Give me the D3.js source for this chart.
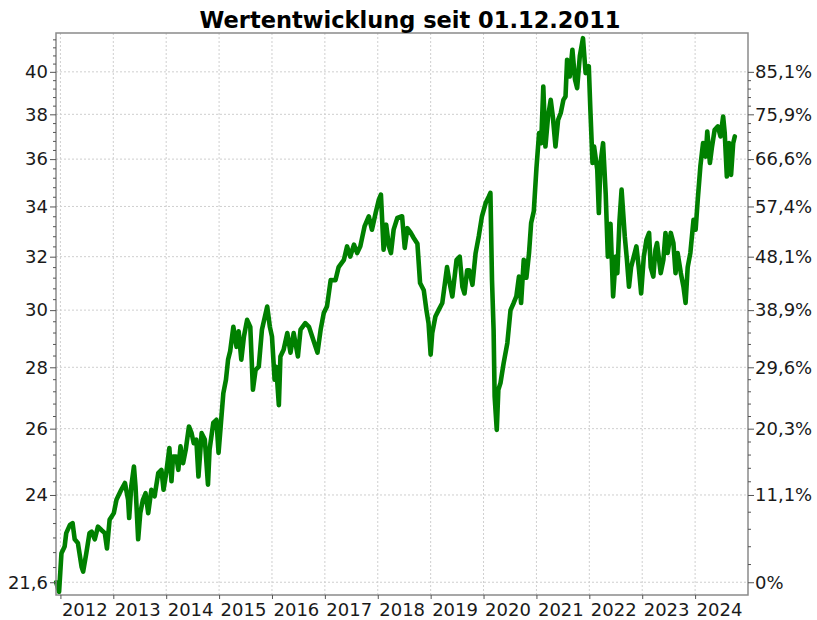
<!DOCTYPE html>
<html>
<head>
<meta charset="utf-8">
<script src="https://cdn.jsdelivr.net/npm/d3@7"></script>
<style>
  body { margin: 0; background: #fff; }
  text { font-family: "DejaVu Sans", Verdana, sans-serif; }
</style>
</head>
<body>
<svg id="chart" width="817" height="620"></svg>
<script>
// Wertentwicklung seit 01.12.2011 - dates as decimal years, price levels
const dates = [
  2011.92, 2011.975, 2012.02, 2012.08, 2012.11, 2012.18, 2012.23, 2012.27, 2012.33, 2012.40,
  2012.43, 2012.49, 2012.55, 2012.59, 2012.65, 2012.71, 2012.78, 2012.84, 2012.88, 2012.93,
  2013.01, 2013.06, 2013.15, 2013.22, 2013.28, 2013.30, 2013.34, 2013.39, 2013.42, 2013.47,
  2013.51, 2013.56, 2013.61, 2013.66, 2013.72, 2013.78, 2013.85, 2013.91, 2013.95, 2014.00,
  2014.06, 2014.10, 2014.13, 2014.19, 2014.23, 2014.27, 2014.32, 2014.37, 2014.43, 2014.48,
  2014.52, 2014.57, 2014.61, 2014.67, 2014.73, 2014.79, 2014.82, 2014.89, 2014.95, 2014.99,
  2015.03, 2015.08, 2015.13, 2015.17, 2015.21, 2015.27, 2015.33, 2015.37, 2015.42, 2015.47,
  2015.53, 2015.59, 2015.64, 2015.69, 2015.75, 2015.81, 2015.91, 2015.96, 2016.00, 2016.05,
  2016.08, 2016.13, 2016.16, 2016.22, 2016.29, 2016.35, 2016.41, 2016.49, 2016.54, 2016.63,
  2016.70, 2016.76, 2016.86, 2016.92, 2016.98, 2017.04, 2017.11, 2017.20, 2017.26, 2017.36,
  2017.42, 2017.48, 2017.55, 2017.61, 2017.67, 2017.75, 2017.83, 2017.89, 2017.96, 2018.02,
  2018.06, 2018.11, 2018.16, 2018.21, 2018.25, 2018.30, 2018.37, 2018.46, 2018.51, 2018.56,
  2018.62, 2018.68, 2018.75, 2018.80, 2018.87, 2018.92, 2018.96, 2019.00, 2019.03, 2019.09,
  2019.15, 2019.22, 2019.31, 2019.36, 2019.41, 2019.49, 2019.55, 2019.60, 2019.64, 2019.69,
  2019.73, 2019.79, 2019.85, 2019.91, 2019.97, 2020.04, 2020.10, 2020.13, 2020.16, 2020.19,
  2020.21, 2020.25, 2020.28, 2020.32, 2020.38, 2020.45, 2020.51, 2020.57, 2020.62, 2020.67,
  2020.71, 2020.76, 2020.81, 2020.86, 2020.90, 2020.95, 2021.00, 2021.05, 2021.09, 2021.13,
  2021.17, 2021.22, 2021.27, 2021.31, 2021.36, 2021.41, 2021.46, 2021.51, 2021.55, 2021.58,
  2021.63, 2021.68, 2021.73, 2021.77, 2021.82, 2021.88, 2021.93, 2021.99, 2022.02, 2022.06,
  2022.09, 2022.15, 2022.18, 2022.21, 2022.26, 2022.31, 2022.35, 2022.40, 2022.45, 2022.50,
  2022.53, 2022.57, 2022.61, 2022.67, 2022.71, 2022.75, 2022.79, 2022.84, 2022.89, 2022.94,
  2022.98, 2023.03, 2023.08, 2023.13, 2023.16, 2023.21, 2023.25, 2023.28, 2023.35, 2023.40,
  2023.44, 2023.48, 2023.54, 2023.59, 2023.63, 2023.67, 2023.73, 2023.78, 2023.82, 2023.86,
  2023.91, 2023.97, 2024.01, 2024.05, 2024.10, 2024.15, 2024.20, 2024.23, 2024.28, 2024.32,
  2024.37, 2024.43, 2024.48, 2024.53, 2024.56, 2024.60, 2024.64, 2024.68, 2024.72, 2024.75
];
const prices = [
  21.6, 21.35, 22.37, 22.55, 22.92, 23.15, 23.2, 22.75, 22.65, 22.01,
  21.88, 22.37, 22.92, 22.96, 22.75, 23.1, 23.0, 22.92, 22.5, 23.29,
  23.48, 23.86, 24.15, 24.35, 23.86, 23.34, 24.25, 24.84, 24.25, 22.75,
  23.48, 23.86, 24.05, 23.48, 24.15, 23.96, 24.64, 24.74, 24.15, 24.64,
  25.4, 24.4, 25.14, 25.14, 24.74, 25.45, 24.94, 25.35, 26.07, 25.86,
  25.55, 25.66, 24.54, 25.86, 25.66, 24.3, 25.35, 26.18, 26.28, 25.25,
  26.07, 27.13, 27.58, 28.26, 28.55, 29.4, 28.7, 29.24, 28.26, 29.06,
  29.65, 29.4, 27.25, 27.91, 28.02, 29.3, 30.13, 29.4, 29.06, 27.58,
  28.02, 26.75, 28.37, 28.6, 29.18, 28.5, 29.18, 28.37, 29.3, 29.53,
  29.4, 29.06, 28.5, 29.3, 29.9, 30.13, 31.11, 31.1, 31.6, 31.88,
  32.4, 32.0, 32.47, 32.14, 32.4, 33.19, 33.6, 33.06, 33.73, 34.28,
  34.49, 32.27, 33.26, 32.4, 32.14, 33.06, 33.53, 33.6, 32.34, 33.12,
  32.95, 32.73, 32.5, 31.0, 30.73, 30.0, 29.53, 28.43, 29.18, 29.77,
  30.0, 30.26, 31.6, 30.99, 30.5, 31.88, 32.0, 30.86, 30.61, 31.48,
  31.48, 30.93, 32.14, 32.8, 33.6, 34.14, 34.41, 34.56, 31.11, 29.3,
  27.03, 25.96, 27.25, 27.47, 28.14, 28.83, 30.0, 30.26, 30.5, 31.24,
  30.26, 31.88, 31.2, 32.14, 33.33, 33.8, 35.6, 37.15, 36.7, 39.3,
  36.55, 37.9, 38.67, 37.9, 36.55, 37.75, 38.06, 38.67, 38.83, 40.59,
  39.78, 41.08, 39.62, 39.22, 40.76, 41.66, 39.94, 40.27, 38.2, 35.83,
  36.55, 35.54, 33.73, 35.8, 36.7, 34.5, 32.0, 33.3, 30.5, 32.0,
  31.37, 33.4, 34.7, 32.8, 31.9, 30.86, 31.6, 32.0, 32.4, 31.48,
  30.61, 32.0, 32.66, 32.93, 31.6, 31.24, 32.27, 32.53, 31.37, 31.88,
  32.93, 32.14, 32.93, 32.53, 31.37, 32.14, 31.37, 30.86, 30.26, 31.6,
  32.14, 33.46, 33.06, 34.28, 35.7, 36.7, 36.11, 37.22, 35.83, 36.55,
  37.3, 37.45, 37.0, 37.9, 37.15, 35.25, 36.7, 35.32, 36.7, 37.0
];

const priceTicks = [21.6, 24, 26, 28, 30, 32, 34, 36, 38, 40];
const percentLabels = ["0%", "11,1%", "20,3%", "29,6%", "38,9%", "48,1%", "57,4%", "66,6%", "75,9%", "85,1%"];
const yearTicks = [2012, 2013, 2014, 2015, 2016, 2017, 2018, 2019, 2020, 2021, 2022, 2023, 2024];
const title = "Wertentwicklung seit 01.12.2011";

const W = 817, H = 620;
const margin = { top: 33, right: 69, bottom: 25, left: 56 };
const svg = d3.select("#chart");

const x = d3.scaleLinear().domain([2011 + 11 / 12, 2025]).range([margin.left, W - margin.right]);
const y = d3.scaleLog().domain([21.27, 41.92]).range([H - margin.bottom, margin.top]);

// minor ticks: left every 0.4, right 4 between majors
const minorLeft = d3.range(21.6, 41.9, 0.4).map(v => +v.toFixed(1)).filter(v => !priceTicks.includes(v));
const minorRight = [];
for (let i = 0; i < priceTicks.length - 1; i++) {
  const a = priceTicks[i], b = priceTicks[i + 1];
  for (let k = 1; k < 5; k++) minorRight.push(a + (b - a) * k / 5);
}

const x0 = margin.left, x1 = W - margin.right, y0 = margin.top, y1 = H - margin.bottom;

// grid
const grid = svg.append("g").attr("stroke", "#cfcfcf").attr("stroke-dasharray", "2,2").attr("stroke-width", 1);
grid.selectAll("line.h").data(priceTicks).enter().append("line")
  .attr("x1", x0).attr("x2", x1).attr("y1", d => y(d)).attr("y2", d => y(d));
grid.selectAll("line.v").data(yearTicks).enter().append("line")
  .attr("x1", d => x(d)).attr("x2", d => x(d)).attr("y1", y0).attr("y2", y1);

// line
const rows = dates.map((d, i) => ({ t: d, v: prices[i] }));
svg.append("path").datum(rows)
  .attr("fill", "none").attr("stroke", "#008000").attr("stroke-width", 4.6)
  .attr("stroke-linejoin", "round").attr("stroke-linecap", "round")
  .attr("d", d3.line().x(d => x(d.t)).y(d => y(d.v)));

// frame
svg.append("rect").attr("x", x0).attr("y", y0).attr("width", x1 - x0).attr("height", y1 - y0)
  .attr("fill", "none").attr("stroke", "#8a8a8a").attr("stroke-width", 1.5);

function styleAxis(g) {
  g.select(".domain").remove();
  g.selectAll(".tick line").attr("stroke", "#555");
  g.selectAll("text").attr("fill", "#1a1a1a").style("font-size", "18px").style("font-family", "'DejaVu Sans', Verdana, sans-serif");
}

// left axis
svg.append("g").attr("transform", `translate(${x0},0)`)
  .call(d3.axisLeft(y).tickValues(minorLeft).tickSize(3).tickFormat(""))
  .call(styleAxis);
svg.append("g").attr("transform", `translate(${x0},0)`)
  .call(d3.axisLeft(y).tickValues(priceTicks).tickSize(6).tickPadding(2)
    .tickFormat(d => String(d).replace(".", ",")))
  .call(styleAxis);

// right axis (percent)
svg.append("g").attr("transform", `translate(${x1},0)`)
  .call(d3.axisRight(y).tickValues(minorRight).tickSize(3).tickFormat(""))
  .call(styleAxis);
svg.append("g").attr("transform", `translate(${x1},0)`)
  .call(d3.axisRight(y).tickValues(priceTicks).tickSize(6).tickPadding(1)
    .tickFormat((d, i) => percentLabels[i]))
  .call(styleAxis);

// bottom axis
const xa = svg.append("g").attr("transform", `translate(0,${y1})`)
  .call(d3.axisBottom(x).tickValues(yearTicks).tickSize(4).tickFormat(d3.format("d")))
  .call(styleAxis);
xa.selectAll("text").attr("text-anchor", "start").attr("x", 1).attr("y", 8);

// title
svg.append("text").attr("x", 410).attr("y", 28).attr("text-anchor", "middle")
  .style("font-size", "22.5px").style("font-weight", "bold").attr("fill", "#000")
  .text(title);
</script>
</body>
</html>
